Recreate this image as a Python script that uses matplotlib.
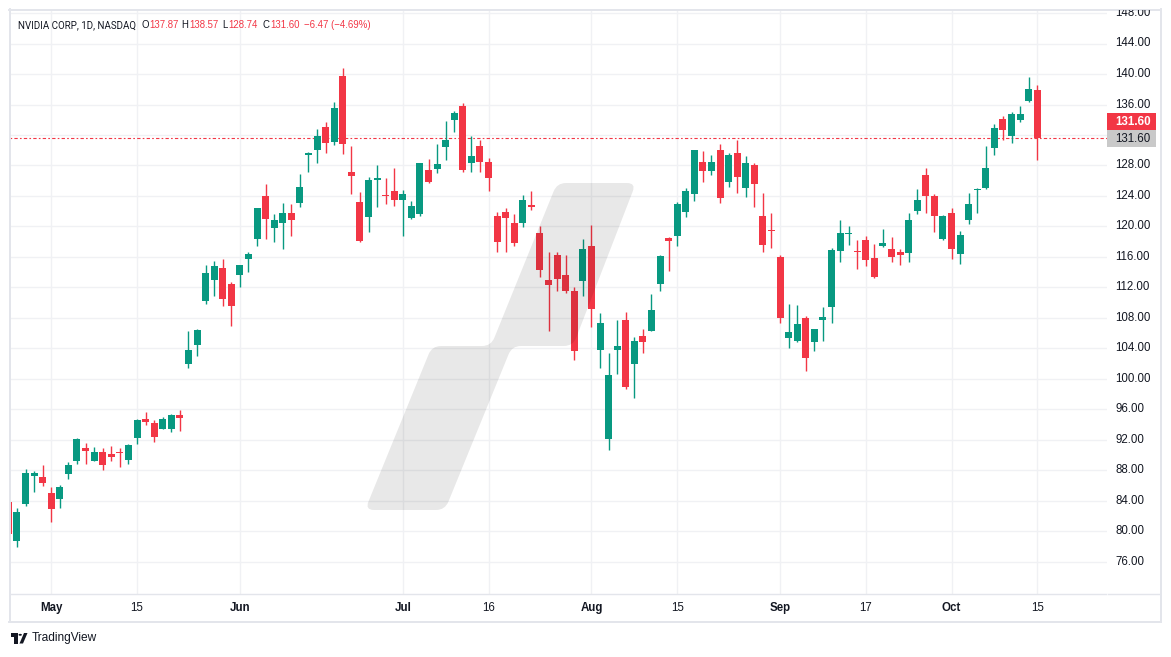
import numpy as np
import matplotlib
matplotlib.use("Agg")
import matplotlib.pyplot as plt
from matplotlib.path import Path
from matplotlib.patches import PathPatch, Rectangle, Polygon, Circle
import matplotlib.transforms as mtransforms

# ---------------- data ----------------
dates = ["2024-04-24", "2024-04-25", "2024-04-26", "2024-04-29", "2024-04-30",
         "2024-05-01", "2024-05-02", "2024-05-03", "2024-05-06", "2024-05-07",
         "2024-05-08", "2024-05-09", "2024-05-10", "2024-05-13", "2024-05-14",
         "2024-05-15", "2024-05-16", "2024-05-17", "2024-05-20", "2024-05-21",
         "2024-05-22", "2024-05-23", "2024-05-24", "2024-05-28", "2024-05-29",
         "2024-05-30", "2024-05-31", "2024-06-03", "2024-06-04", "2024-06-05",
         "2024-06-06", "2024-06-07", "2024-06-10", "2024-06-11", "2024-06-12",
         "2024-06-13", "2024-06-14", "2024-06-17", "2024-06-18", "2024-06-20",
         "2024-06-21", "2024-06-24", "2024-06-25", "2024-06-26", "2024-06-27",
         "2024-06-28", "2024-07-01", "2024-07-02", "2024-07-03", "2024-07-05",
         "2024-07-08", "2024-07-09", "2024-07-10", "2024-07-11", "2024-07-12",
         "2024-07-15", "2024-07-16", "2024-07-17", "2024-07-18", "2024-07-19",
         "2024-07-22", "2024-07-23", "2024-07-24", "2024-07-25", "2024-07-26",
         "2024-07-29", "2024-07-30", "2024-07-31", "2024-08-01", "2024-08-02",
         "2024-08-05", "2024-08-06", "2024-08-07", "2024-08-08", "2024-08-09",
         "2024-08-12", "2024-08-13", "2024-08-14", "2024-08-15", "2024-08-16",
         "2024-08-19", "2024-08-20", "2024-08-21", "2024-08-22", "2024-08-23",
         "2024-08-26", "2024-08-27", "2024-08-28", "2024-08-29", "2024-08-30",
         "2024-09-03", "2024-09-04", "2024-09-05", "2024-09-06", "2024-09-09",
         "2024-09-10", "2024-09-11", "2024-09-12", "2024-09-13", "2024-09-16",
         "2024-09-17", "2024-09-18", "2024-09-19", "2024-09-20", "2024-09-23",
         "2024-09-24", "2024-09-25", "2024-09-26", "2024-09-27", "2024-09-30",
         "2024-10-01", "2024-10-02", "2024-10-03", "2024-10-04", "2024-10-07",
         "2024-10-08", "2024-10-09", "2024-10-10", "2024-10-11", "2024-10-14",
         "2024-10-15"]

opens = [83.9, 78.8, 83.6, 87.3, 87.2, 85.0, 84.2, 87.6, 89.2, 91.0,
         89.3, 90.4, 90.2, 90.45, 89.4, 92.3, 94.8, 94.2, 93.5, 93.4,
         95.3, 102.0, 104.4, 110.2, 113.0, 114.6, 112.5, 113.6, 115.7, 118.4,
         124.0, 119.8, 120.4, 121.8, 123.1, 129.4, 130.0, 133.0, 131.1, 139.8,
         127.1, 123.2, 121.2, 126.1, 124.1, 124.6, 123.5, 121.1, 121.7, 127.4,
         127.5, 130.4, 134.0, 135.8, 128.3, 130.6, 128.4, 121.4, 121.9, 120.4,
         120.4, 122.8, 119.2, 113.0, 116.2, 113.7, 111.5, 112.9, 117.5, 103.8,
         92.1, 103.8, 107.8, 102.0, 105.6, 106.3, 112.4, 118.5, 118.8, 121.9,
         124.3, 128.4, 127.3, 130.0, 125.9, 129.6, 125.1, 128.1, 121.4, 119.5,
         116.0, 105.4, 105.0, 108.0, 104.9, 107.8, 109.4, 116.8, 119.0, 116.8,
         118.2, 115.9, 117.4, 117.1, 116.6, 116.5, 122.0, 126.8, 124.0, 118.3,
         121.8, 116.4, 120.9, 124.82, 125.0, 130.3, 134.1, 131.9, 134.0, 136.5,
         137.87]
highs = [84.1, 83.1, 88.2, 87.9, 88.7, 85.8, 86.1, 89.1, 92.2, 91.6,
         91.1, 91.0, 91.2, 90.9, 91.5, 94.8, 95.7, 94.6, 95.0, 95.4,
         95.9, 106.3, 106.5, 114.9, 115.5, 115.8, 112.7, 115.0, 116.6, 122.4,
         125.6, 121.7, 123.1, 122.9, 126.9, 129.8, 132.8, 133.7, 136.3, 140.8,
         130.6, 124.5, 126.5, 128.1, 126.4, 127.7, 124.8, 123.4, 128.3, 128.9,
         130.8, 133.8, 135.1, 136.2, 131.9, 131.4, 129.0, 121.9, 122.4, 121.6,
         124.1, 124.7, 120.0, 116.6, 116.6, 116.3, 112.0, 118.3, 120.2, 108.7,
         103.4, 107.7, 108.8, 105.5, 106.6, 111.1, 116.2, 118.6, 123.2, 125.0,
         130.0, 129.9, 129.4, 130.8, 129.6, 131.3, 129.2, 128.3, 124.4, 121.8,
         116.2, 109.8, 109.7, 108.2, 106.6, 109.4, 117.2, 120.8, 120.0, 118.2,
         118.8, 117.7, 119.7, 118.6, 117.0, 121.8, 124.9, 127.7, 124.2, 121.5,
         122.4, 119.4, 124.4, 125.0, 130.6, 133.5, 134.5, 135.0, 135.8, 139.6,
         138.57]
lows = [79.2, 78.0, 83.3, 85.2, 86.0, 81.2, 83.1, 86.9, 88.9, 88.9,
        89.2, 88.1, 89.2, 88.5, 88.9, 91.5, 94.0, 91.8, 93.4, 93.1,
        93.2, 101.5, 103.0, 109.9, 110.9, 109.6, 106.9, 112.0, 114.0, 117.5,
        118.3, 118.0, 117.0, 118.7, 122.6, 127.2, 128.3, 129.6, 130.7, 129.5,
        124.3, 118.0, 119.3, 122.6, 122.9, 122.7, 118.8, 121.0, 121.4, 125.7,
        127.0, 128.7, 132.4, 127.1, 127.2, 127.2, 124.6, 116.7, 116.6, 117.4,
        119.9, 122.1, 113.4, 106.3, 111.6, 111.3, 102.5, 110.9, 106.8, 101.4,
        90.7, 100.6, 98.7, 97.5, 103.4, 106.3, 111.6, 114.1, 117.5, 121.2,
        123.4, 125.9, 126.7, 123.1, 125.2, 124.4, 123.9, 122.6, 116.7, 117.2,
        107.3, 104.1, 104.8, 101.0, 103.7, 105.0, 107.4, 115.4, 117.6, 114.4,
        114.8, 113.2, 117.3, 115.4, 114.9, 115.4, 121.6, 121.8, 119.3, 118.2,
        115.8, 115.1, 120.3, 121.8, 124.9, 129.4, 131.4, 131.0, 133.7, 136.3,
        128.74]
closes = [79.7, 82.6, 87.7, 87.7, 86.3, 83.0, 85.8, 88.7, 92.1, 90.5,
          90.4, 88.7, 89.8, 90.35, 91.3, 94.6, 94.3, 92.4, 94.7, 95.3,
          94.9, 103.8, 106.4, 113.9, 114.8, 110.5, 109.6, 115.0, 116.4, 122.4,
          121.0, 120.9, 121.8, 120.9, 125.2, 129.6, 131.9, 131.0, 135.6, 130.8,
          126.6, 118.1, 126.1, 126.4, 124.0, 123.5, 124.3, 122.7, 128.3, 125.8,
          128.2, 131.4, 134.9, 127.4, 129.2, 128.4, 126.4, 118.0, 121.1, 117.9,
          123.5, 122.6, 114.3, 112.3, 113.1, 111.6, 103.7, 117.0, 109.2, 107.3,
          100.5, 104.3, 98.9, 105.0, 104.8, 109.0, 116.1, 118.1, 122.9, 124.6,
          130.0, 127.3, 128.5, 123.7, 129.4, 126.5, 128.3, 125.6, 117.6, 119.4,
          108.0, 106.2, 107.2, 102.8, 106.5, 108.1, 116.9, 119.1, 119.1, 116.7,
          115.6, 113.4, 117.9, 116.0, 116.3, 120.9, 123.5, 124.0, 121.4, 121.4,
          117.0, 118.9, 122.9, 124.92, 127.7, 132.9, 132.7, 134.8, 134.8, 138.07,
          131.60]

xtick_dates = ["2024-05-01", "2024-05-15", "2024-06-03", "2024-07-01", "2024-07-16",
               "2024-08-01", "2024-08-15", "2024-09-03", "2024-09-17", "2024-10-01",
               "2024-10-15"]
xtick_labels = ["May", "15", "Jun", "Jul", "16", "Aug", "15", "Sep", "17", "Oct", "15"]
xtick_is_month = [True, False, True, True, False, True, False, True, False, True, False]
ytick_values = [76, 80, 84, 88, 92, 96, 100, 104, 108, 112, 116, 120, 124, 128,
                132, 136, 140, 144, 148]
ytick_labels = ["76.00", "80.00", "84.00", "88.00", "92.00", "96.00", "100.00",
                "104.00", "108.00", "112.00", "116.00", "120.00", "124.00",
                "128.00", "132.00", "136.00", "140.00", "144.00", "148.00"]
header_name = "NVIDIA CORP, 1D, NASDAQ"

# ---------------- style ----------------
UP = "#089981"
DOWN = "#F23645"
TXT = "#131722"
GRID = "#F0F1F4"
BORDER = "#E3E5EB"
plt.rcParams["font.family"] = ["Liberation Sans", "DejaVu Sans"]

W, H = 1171, 657
fig = plt.figure(figsize=(W / 100, H / 100), dpi=100)
fig.patch.set_facecolor("white")


def fx(x):
    return x / W


def fy(y):
    return 1 - y / H


# pane geometry (pixels)
PL, PR, PT, PB = 10, 1107, 10, 594
# mapping: pixel_x = X0 + idx * DX ; pixel_y = Y0 + (P0 - price) * DY
X0, DX = 8.4, 8.574
P0, Y0, DY = 148.0, 13.0, 7.625

ax = fig.add_axes([fx(PL), fy(PB), fx(PR - PL), (PB - PT) / H])
ax.set_xlim((PL - X0) / DX, (PR - X0) / DX)
ax.set_ylim(P0 - (PB - Y0) / DY, P0 - (PT - Y0) / DY)
ax.set_axis_off()

idx = np.arange(len(dates))
o = np.array(opens)
h = np.array(highs)
l = np.array(lows)
c = np.array(closes)

last_price = closes[-1]
change = closes[-1] - closes[-2]
change_pct = change / closes[-2] * 100

# grid
for v in ytick_values:
    ax.axhline(v, color=GRID, lw=1.0, zorder=0)
tick_idx = [dates.index(d) for d in xtick_dates]
for t in tick_idx:
    ax.axvline(t, color=GRID, lw=1.0, zorder=0)

# last price line
ax.axhline(last_price, color=DOWN, lw=0.8, ls=(0, (1.5, 2.0, 3.0, 2.0)), zorder=1)

# candles
up = c >= o
colors = np.where(up, UP, DOWN)
ax.vlines(idx, l, h, colors=colors, lw=1.0, zorder=2)
body_bottom = np.minimum(o, c)
body_h = np.maximum(np.abs(c - o), 1.0 / DY)
ax.bar(idx, body_h, bottom=body_bottom, width=7.0 / DX, color=colors,
       linewidth=0, zorder=3)


# ---------------- watermark (pixel coords) ----------------
def rounded_path(pts, r):
    pts = [np.array(p, float) for p in pts]
    n = len(pts)
    verts, codes = [], []
    for i in range(n):
        p = pts[i]
        pp = pts[i - 1]
        pn = pts[(i + 1) % n]
        a = p + r * (pp - p) / np.linalg.norm(pp - p)
        b = p + r * (pn - p) / np.linalg.norm(pn - p)
        verts.append(a)
        codes.append(Path.MOVETO if i == 0 else Path.LINETO)
        verts.append(p); codes.append(Path.CURVE3)
        verts.append(b); codes.append(Path.CURVE3)
    verts.append(verts[0]); codes.append(Path.CLOSEPOLY)
    verts = [(fx(v[0]), fy(v[1])) for v in verts]
    return Path(verts, codes)


wm_pts = [(557, 183), (636, 183), (573, 346), (512, 346), (445, 510),
          (365, 510), (432, 346), (491, 346)]
wm = PathPatch(rounded_path(wm_pts, 9), transform=fig.transFigure,
               facecolor=(0, 0, 0, 0.09), edgecolor="none", zorder=5)
fig.add_artist(wm)


# ---------------- borders ----------------
def hline(y, x0, x1, color=BORDER, lw=1.0):
    fig.add_artist(plt.Line2D([fx(x0), fx(x1)], [fy(y), fy(y)], color=color,
                              lw=lw, transform=fig.transFigure, zorder=6))


def vline(x, y0, y1, color=BORDER, lw=1.0):
    fig.add_artist(plt.Line2D([fx(x), fx(x)], [fy(y0), fy(y1)], color=color,
                              lw=lw, transform=fig.transFigure, zorder=6))


hline(9.5, 9, 1161, lw=1.4)
hline(621.5, 9, 1161, lw=1.4)
vline(9.5, 9, 622, lw=1.4)
vline(1160.5, 9, 622, lw=1.4)
hline(594, 10, 1106)
hline(594, 1108, 1160)

# ---------------- price axis labels ----------------
clipbox = mtransforms.Bbox([[1107, H - 594], [1160, H - 10]])
blend = mtransforms.blended_transform_factory(fig.transFigure, ax.transData)
box_top_px, box_bot_px = 113.0, 146.7
for v, s in zip(ytick_values, ytick_labels):
    ypx = Y0 + (P0 - v) * DY
    if box_top_px - 6 < ypx < box_bot_px + 6:
        continue  # hidden behind the last-price labels
    t = fig.text(fx(1115.5), v, s, transform=blend, fontsize=8.3, color=TXT,
                 ha="left", va="center", zorder=7)
    t.set_clip_box(clipbox)
    t.set_clip_on(True)

# last price boxes
lp = "%.2f" % last_price
fig.add_artist(Rectangle((fx(1107), fy(130)), fx(49), 17 / H, transform=fig.transFigure,
                         facecolor=DOWN, edgecolor="none", zorder=8))
fig.text(fx(1115.5), fy(121.7), lp, fontsize=8.3, color="white",
         fontweight="bold", ha="left", va="center", zorder=9)
fig.add_artist(Rectangle((fx(1107), fy(146.7)), fx(49), 16.7 / H, transform=fig.transFigure,
                         facecolor="#C9C9C9", edgecolor="none", zorder=8))
fig.text(fx(1115.5), fy(138.6), lp, fontsize=8.3, color=TXT,
         ha="left", va="center", zorder=9)

# ---------------- time axis labels ----------------
for t, s, m in zip(tick_idx, xtick_labels, xtick_is_month):
    xp = X0 + t * DX
    fig.text(fx(xp), fy(608), s, fontsize=8.3, color=TXT, ha="center", va="center",
             fontweight="bold" if m else "normal", zorder=7)

# ---------------- header ----------------
hy = fy(25)
HFS = 6.9
name_t = fig.text(fx(18), hy, header_name, fontsize=7.0, color=TXT, ha="left",
                  va="center", zorder=9, family=["Roboto", "DejaVu Sans"])
fig.canvas.draw()
renderer = fig.canvas.get_renderer()
bw = name_t.get_window_extent(renderer).width
target = 137 - 18
if bw > target:
    name_t.set_fontsize(7.0 * target / bw)

pairs = [(141.5, "O", "%.2f" % opens[-1]),
         (181.5, "H", "%.2f" % highs[-1]),
         (222.5, "L", "%.2f" % lows[-1]),
         (262.5, "C", "%.2f" % closes[-1])]
for xp, letter, val in pairs:
    lt = fig.text(fx(xp), hy, letter, fontsize=HFS, color=TXT, ha="left",
                  va="center", zorder=9)
    lw_px = lt.get_window_extent(renderer).width
    fig.text(fx(xp + lw_px + 0.8), hy, val, fontsize=HFS, color=DOWN, ha="left",
             va="center", zorder=9)
fig.text(fx(303.5), hy, "\u2212%.2f (\u2212%.2f%%)" % (abs(change), abs(change_pct)),
         fontsize=HFS, color=DOWN, ha="left", va="center", zorder=9)

# ---------------- TradingView logo ----------------
logo_col = "#131722"


def prect(x0, y0, x1, y1):
    return Rectangle((fx(x0), fy(y1)), fx(x1 - x0), (y1 - y0) / H,
                     transform=fig.transFigure, facecolor=logo_col, edgecolor="none")


fig.add_artist(prect(11, 633, 17.5, 636.5))
fig.add_artist(prect(14.2, 633, 17.5, 643.5))
fig.add_artist(Circle((fx(20.2), fy(634.8)), 1.7 / W, transform=fig.transFigure,
                      facecolor=logo_col, edgecolor="none"))
fig.add_artist(Polygon([(fx(19.5), fy(643.5)), (fx(23.0), fy(643.5)),
                        (fx(27.5), fy(633)), (fx(24.0), fy(633))], closed=True,
                       transform=fig.transFigure, facecolor=logo_col, edgecolor="none"))
fig.text(fx(32), fy(638.5), "TradingView", fontsize=8.6, color=TXT, ha="left",
         va="center")

fig.savefig("out.png", dpi=100, facecolor="white")
